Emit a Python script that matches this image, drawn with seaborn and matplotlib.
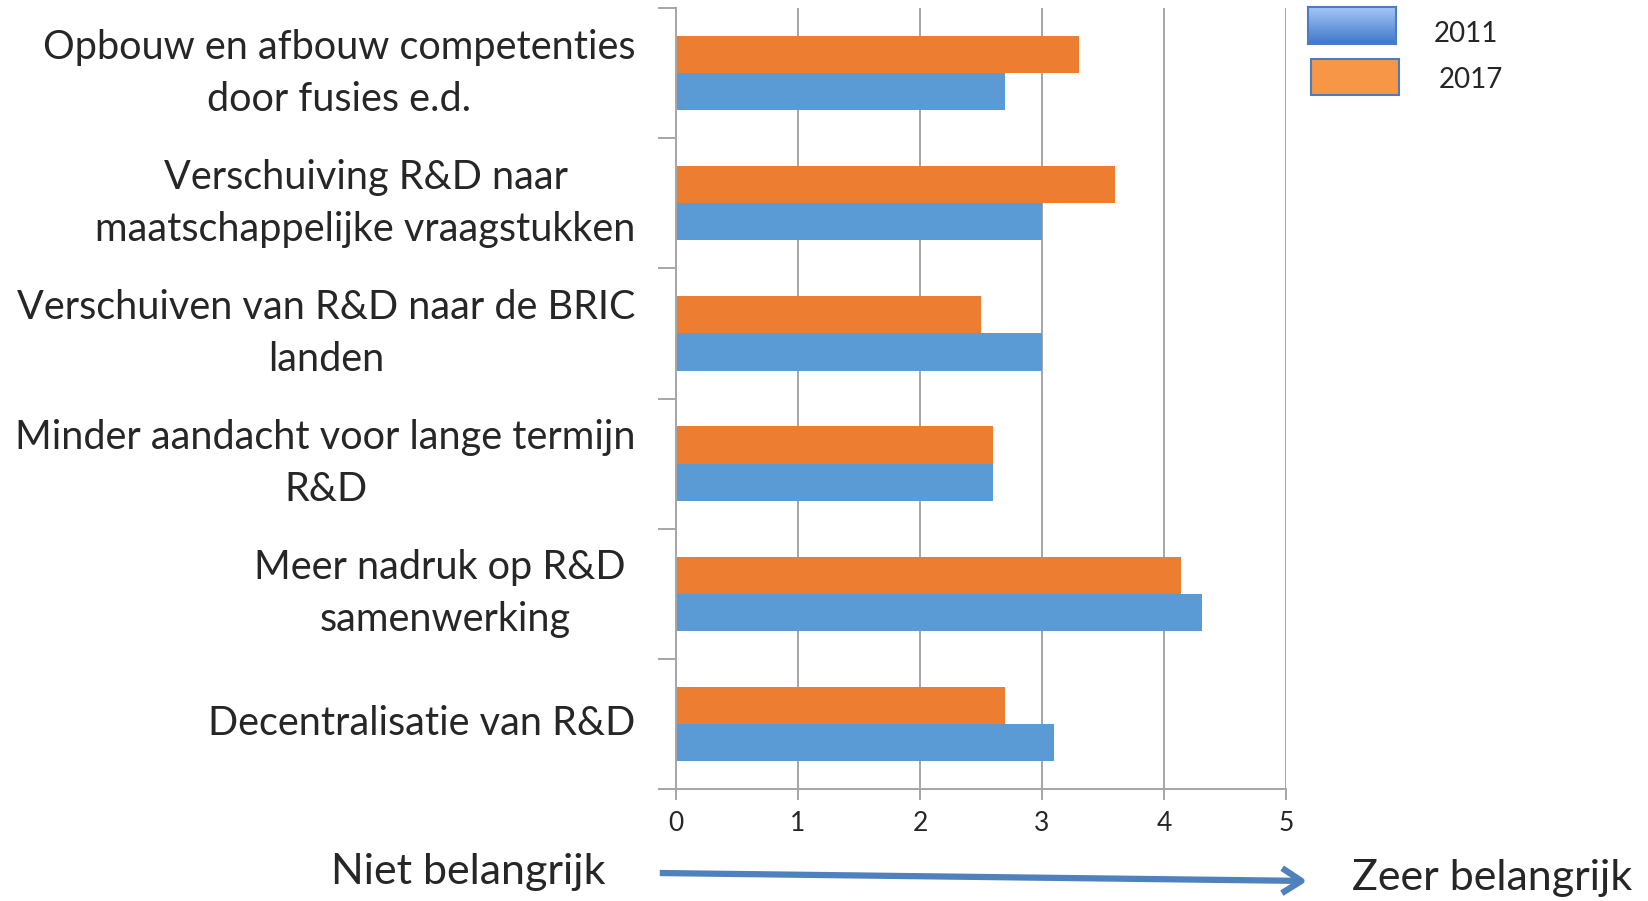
import numpy as np
import pandas as pd
import matplotlib
matplotlib.use("Agg")
import matplotlib.pyplot as plt
import seaborn as sns
from matplotlib.patches import Rectangle, FancyArrowPatch

# data (top to bottom)
labels = [
    "Opbouw en afbouw competenties\ndoor fusies e.d.",
    "Verschuiving R&D naar\nmaatschappelijke vraagstukken",
    "Verschuiven van R&D naar de BRIC\nlanden",
    "Minder aandacht voor lange termijn\nR&D",
    "Meer nadruk op R&D \nsamenwerking",
    "Decentralisatie van R&D",
]
scores_2011 = [2.7, 3.0, 3.0, 2.6, 4.31, 3.1]
scores_2017 = [3.3, 3.6, 2.5, 2.6, 4.14, 2.7]
years = ["2011", "2017"]
xticks = [0, 1, 2, 3, 4, 5]

blue = "#5B9BD5"
orange = "#ED7D31"
grid_col = "#A6A6A6"

df = pd.DataFrame({"label": labels, "2011": scores_2011, "2017": scores_2017})
df = df.melt(id_vars="label", var_name="jaar", value_name="score")

sns.set_style("white")
plt.rcParams["font.family"] = ["Lato", "DejaVu Sans"]

fig = plt.figure(figsize=(16.48, 9.01), dpi=100)
ax = fig.add_axes([676 / 1648, 1 - 789 / 901, 610 / 1648, 781 / 901])

sns.barplot(data=df, y="label", x="score", hue="jaar", hue_order=["2017", "2011"],
            palette={"2011": blue, "2017": orange}, order=labels, orient="h",
            width=0.57, saturation=1, legend=False, ax=ax, linewidth=0)

ax.set_xlim(0, 5)
ax.set_ylim(len(labels) - 0.5, -0.5)
ax.set_xlabel("")
ax.set_ylabel("")
ax.set_axisbelow(True)
ax.xaxis.grid(True, color=grid_col, lw=1.4)
ax.yaxis.grid(False)

for s in ["top", "right"]:
    ax.spines[s].set_visible(False)
for s in ["left", "bottom"]:
    ax.spines[s].set_color(grid_col)
    ax.spines[s].set_linewidth(1.4)

ax.set_xticks(xticks)
ax.set_xticklabels([str(t) for t in xticks], fontsize=19)
ax.tick_params(axis="x", bottom=True, direction="out", length=8, width=1.4, color=grid_col, pad=8)

ax.set_yticks(range(len(labels)))
ax.set_yticklabels(labels, fontsize=28.5)
ax.set_yticks(np.arange(-0.5, len(labels), 1), minor=True)
ax.tick_params(axis="y", which="major", left=False, length=0, pad=29)
ax.tick_params(axis="y", which="minor", left=True, direction="out", length=13, width=1.4, color=grid_col)
for t in ax.get_yticklabels():
    t.set_multialignment("center")
    t.set_linespacing(1.5)
    t.set_verticalalignment("center")

# legend
grad = fig.add_axes([1308 / 1648, 1 - 44 / 901, 88 / 1648, 37 / 901])
grad.imshow(np.linspace(0, 1, 50).reshape(-1, 1),
            cmap=matplotlib.colors.LinearSegmentedColormap.from_list("g", ["#A3C6F7", "#3F78C9"]),
            aspect="auto", extent=[0, 1, 0, 1], origin="upper")
grad.set_xticks([])
grad.set_yticks([])
for s in grad.spines.values():
    s.set_color("#4A7CC0")
    s.set_linewidth(1.5)
fig.patches.append(Rectangle((1311 / 1648, 1 - 95 / 901), 88 / 1648, 36 / 901,
                             transform=fig.transFigure, facecolor="#F79646",
                             edgecolor="#4A7CC0", lw=1.5))
fig.text(1466 / 1648, 1 - 34 / 901, years[0], fontsize=20, ha="center", va="center")
fig.text(1471 / 1648, 1 - 80 / 901, years[1], fontsize=20, ha="center", va="center")

# bottom annotation
fig.text(468 / 1648, 1 - 872 / 901, "Niet belangrijk", fontsize=31, ha="center", va="center")
fig.text(1492 / 1648, 1 - 878 / 901, "Zeer belangrijk", fontsize=31, ha="center", va="center")
arrow = FancyArrowPatch((657 / 1648, 1 - 873 / 901), (1310 / 1648, 1 - 881 / 901),
                        transform=fig.transFigure, arrowstyle="->,head_length=0.7,head_width=0.45",
                        color="#4F81BD", lw=4.5, mutation_scale=20, capstyle="butt")
fig.patches.append(arrow)

fig.savefig("out.png", dpi=100, facecolor="white")
